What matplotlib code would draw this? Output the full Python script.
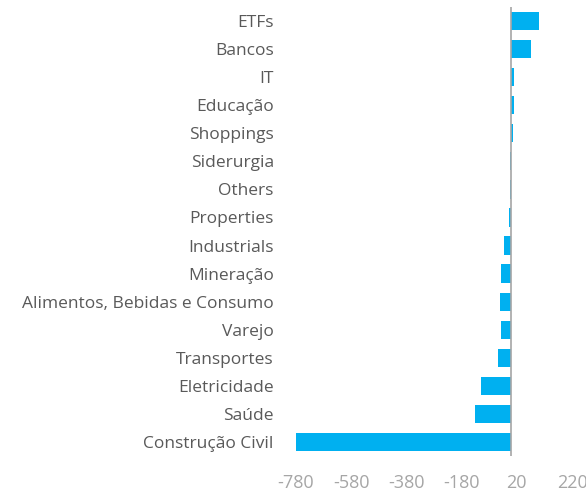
import matplotlib
matplotlib.use("Agg")
import matplotlib.pyplot as plt

categories = ["ETFs", "Bancos", "IT", "Educação", "Shoppings", "Siderurgia", "Others",
              "Properties", "Industrials", "Mineração", "Alimentos, Bebidas e Consumo",
              "Varejo", "Transportes", "Eletricidade", "Saúde", "Construção Civil"]
values = [99, 70, 10, 9, 7, -6, -6, -9, -25, -37, -40, -39, -47, -108, -133, -780]
xticks = [-780, -580, -380, -180, 20, 220]

plt.rcParams['font.family'] = ['Open Sans', 'DejaVu Sans']

fig = plt.figure(figsize=(5.86, 4.93), dpi=100)
ax = fig.add_axes([296/586, 1-456/493, (572-296)/586, (456-7)/493])

n = len(categories)
ypos = list(range(n))[::-1]
ax.barh(ypos, values, height=0.65, color="#00B0F0", zorder=2)
ax.axvline(0, color="#A6A6A6", linewidth=1.2, zorder=3)

ax.set_xlim(-780, 220)
ax.set_ylim(-0.5, n - 0.5)
ax.set_xticks(xticks)
ax.set_xticklabels([str(t) for t in xticks], color="#A6A6A6", fontsize=13)
ax.set_yticks(ypos)
ax.set_yticklabels(categories, color="#595959", fontsize=12.5)
ax.tick_params(axis='both', length=0)
ax.tick_params(axis='x', pad=13)
ax.tick_params(axis='y', pad=16)
for s in ax.spines.values():
    s.set_visible(False)

fig.savefig("out.png", dpi=100)
